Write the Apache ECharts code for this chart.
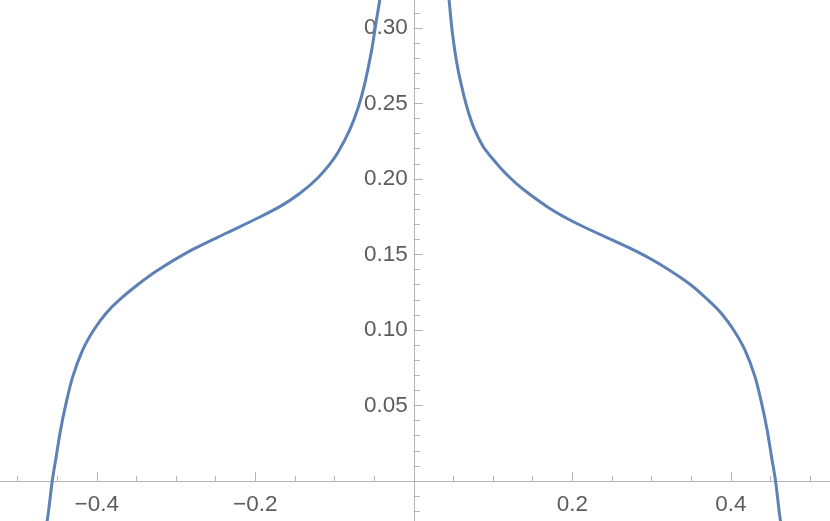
<!DOCTYPE html>
<html>
<head>
<meta charset="utf-8">
<script src="https://cdn.jsdelivr.net/npm/echarts@6/dist/echarts.min.js"></script>
<style>
  html, body { margin: 0; padding: 0; background: #fff; }
  #main { width: 830px; height: 521px; }
</style>
</head>
<body>
<div id="main"></div>
<script>
// left branch (x < 0)
const leftX = [-0.4637, -0.4609, -0.4562, -0.4512, -0.4457, -0.4387, -0.4303, -0.4177, -0.4038,
  -0.3882, -0.3715, -0.3460, -0.3202, -0.2782, -0.2361, -0.1941, -0.1647, -0.1436, -0.1225,
  -0.1057, -0.0952, -0.0808, -0.0703, -0.0619, -0.0534, -0.0471, -0.0429, -0.0400];
const leftY = [-0.030, -0.0203, 0.0, 0.0161, 0.0338, 0.0515, 0.0691, 0.0868, 0.1000,
  0.1111, 0.1199, 0.1309, 0.1405, 0.1535, 0.1642, 0.1748, 0.1830, 0.1905, 0.2000,
  0.2100, 0.2180, 0.2325, 0.2470, 0.2630, 0.2845, 0.3053, 0.3185, 0.3300];

// right branch (x > 0)
const rightX = [0.0420, 0.0446, 0.0488, 0.0551, 0.0635, 0.0700, 0.0761, 0.0875, 0.0993, 0.1086,
  0.1225, 0.1380, 0.1717, 0.2096, 0.2727, 0.3064, 0.3485, 0.3725, 0.3885, 0.4036,
  0.4178, 0.4305, 0.4389, 0.4459, 0.4514, 0.4565, 0.4611, 0.4637];
const rightY = [0.3340, 0.3185, 0.2965, 0.2744, 0.2545, 0.2425, 0.2335, 0.2215, 0.2135, 0.2078,
  0.2003, 0.1932, 0.1805, 0.1695, 0.1542, 0.1448, 0.1303, 0.1193, 0.1108, 0.1000,
  0.0868, 0.0691, 0.0515, 0.0338, 0.0161, 0.0, -0.0203, -0.030];

// tick positions
const xMajorTicks = [-0.4, -0.2, 0.2, 0.4];
const xMinorTicks = [-0.5, -0.45, -0.35, -0.3, -0.25, -0.15, -0.1, -0.05,
  0.05, 0.1, 0.15, 0.25, 0.3, 0.35, 0.45, 0.5];
const yMajorTicks = [0.05, 0.1, 0.15, 0.2, 0.25, 0.3];
const yMinorTicks = [-0.02, -0.01, 0.01, 0.02, 0.03, 0.04, 0.06, 0.07, 0.08, 0.09,
  0.11, 0.12, 0.13, 0.14, 0.16, 0.17, 0.18, 0.19, 0.21, 0.22, 0.23, 0.24,
  0.26, 0.27, 0.28, 0.29, 0.31];

// visible plot range
const xMin = -0.5221, xMax = 0.5252;
const yMin = -0.0265, yMax = 0.3185;

const W = 830, H = 521;
// axes cross at the origin: shift them inward from the grid edges
const xAxisOffset = -(0 - yMin) / (yMax - yMin) * H;
const yAxisOffset = -(0 - xMin) / (xMax - xMin) * W;

const lineColor = '#5E81B5';
const axisColor = '#b3b3b3';
const labelColor = '#5c5c5c';
const labelFont = 'Liberation Sans';
const labelSize = 22.5;

function zip(xs, ys) {
  return xs.map((x, i) => [x, ys[i]]);
}

function xLabel(v) {
  return Number(v).toFixed(1).replace('-', '\u2212');
}

function yLabel(v) {
  return Number(v).toFixed(2);
}

var chartDom = document.getElementById('main');
var myChart = echarts.init(chartDom, null, { renderer: 'canvas' });

function curveSeries(data) {
  return {
    type: 'line',
    data: data,
    xAxisIndex: 0,
    yAxisIndex: 0,
    showSymbol: false,
    smooth: 0.3,
    lineStyle: { color: lineColor, width: 3 },
    itemStyle: { color: lineColor },
    animation: false
  };
}

function xAxisOf(ticks, tickLen, withLabels) {
  return {
    type: 'value',
    min: xMin,
    max: xMax,
    position: 'bottom',
    offset: xAxisOffset,
    axisLine: { show: withLabels, onZero: false, lineStyle: { color: axisColor, width: 1 } },
    axisTick: { show: true, inside: true, length: tickLen, customValues: ticks, lineStyle: { color: axisColor } },
    splitLine: { show: false },
    axisLabel: {
      show: withLabels,
      customValues: ticks,
      margin: 12,
      color: labelColor,
      fontFamily: labelFont,
      fontSize: labelSize,
      formatter: xLabel
    }
  };
}

function yAxisOf(ticks, tickLen, withLabels) {
  return {
    type: 'value',
    min: yMin,
    max: yMax,
    position: 'left',
    offset: yAxisOffset,
    axisLine: { show: withLabels, onZero: false, lineStyle: { color: axisColor, width: 1 } },
    axisTick: { show: true, inside: true, length: tickLen, customValues: ticks, lineStyle: { color: axisColor } },
    splitLine: { show: false },
    axisLabel: {
      show: withLabels,
      customValues: ticks,
      margin: 6,
      color: labelColor,
      fontFamily: labelFont,
      fontSize: labelSize,
      formatter: yLabel
    }
  };
}

var option = {
  animation: false,
  backgroundColor: '#ffffff',
  grid: {
    left: 0,
    right: 0,
    top: 0,
    bottom: 0,
    containLabel: false,
    outerBoundsMode: 'none'
  },
  xAxis: [
    xAxisOf(xMajorTicks, 9, true),
    xAxisOf(xMinorTicks, 5, false)
  ],
  yAxis: [
    yAxisOf(yMajorTicks, 9, true),
    yAxisOf(yMinorTicks, 6, false)
  ],
  series: [
    curveSeries(zip(leftX, leftY)),
    curveSeries(zip(rightX, rightY))
  ]
};

option && myChart.setOption(option);
</script>
</body>
</html>
